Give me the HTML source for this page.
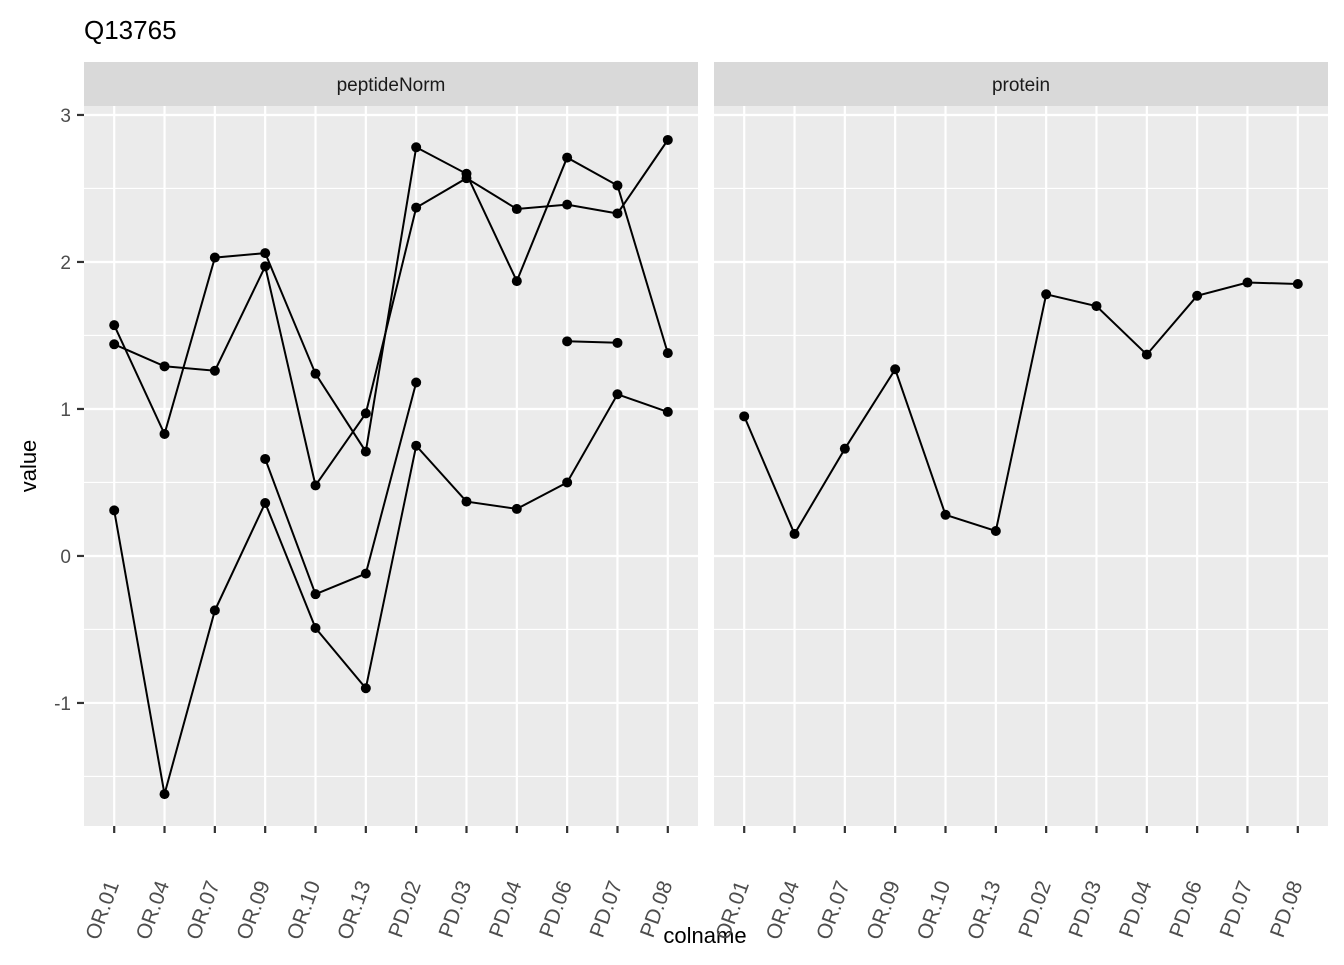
<!DOCTYPE html>
<html><head><meta charset="utf-8"><style>
body{margin:0;background:#fff;}
svg text{font-family:"Liberation Sans",Arial,sans-serif;}
</style></head><body>
<svg id="chart" width="1344" height="960" viewBox="0 0 1344 960" xmlns="http://www.w3.org/2000/svg">
<text x="84" y="39" font-size="26" fill="#000">Q13765</text>
<text x="0" y="0" transform="translate(36,466) rotate(-90)" text-anchor="middle" font-size="22" fill="#000">value</text>
<text x="705" y="943" text-anchor="middle" font-size="22" fill="#000">colname</text>
</svg>
<script>
const categories = ["OR.01","OR.04","OR.07","OR.09","OR.10","OR.13","PD.02","PD.03","PD.04","PD.06","PD.07","PD.08"];
const yTicks = [-1,0,1,2,3];
const yTickLabels = ["-1","0","1","2","3"];
const panels = ["peptideNorm","protein"];
const pep1 = [1.57,0.83,2.03,2.06,1.24,0.71,2.78,2.60,1.87,2.71,2.52,1.38];
const pep2 = [1.44,1.29,1.26,1.97,0.48,0.97,2.37,2.57,2.36,2.39,2.33,2.83];
const pep3 = [0.31,-1.62,-0.37,0.36,-0.49,-0.90,0.75,0.37,0.32,0.50,1.10,0.98];
const pep4 = [null,null,null,0.66,-0.26,-0.12,1.18,null,null,null,null,null];
const pep5 = [null,null,null,null,null,null,null,null,null,1.46,1.45,null];
const protein = [0.95,0.15,0.73,1.27,0.28,0.17,1.78,1.70,1.37,1.77,1.86,1.85];

const NS="http://www.w3.org/2000/svg";
const svg=document.getElementById('chart');
function mk(tag,attrs,parent){const e=document.createElementNS(NS,tag);for(const k in attrs)e.setAttribute(k,attrs[k]);(parent||svg).appendChild(e);return e;}
const pTop=106,pBot=826,yMin=-1.837,yMax=3.061;
function yS(v){return pBot-(v-yMin)/(yMax-yMin)*(pBot-pTop);}
const panelX=[[84,698],[714,1328]];
function xf(p,i){const [a,b]=panelX[p];const w=b-a;const step=w/(categories.length-1+1.2);return a+step*0.6+i*step;}
const panelSeries=[[pep1,pep2,pep3,pep4,pep5],[protein]];

panels.forEach((name,p)=>{
  const [a,b]=panelX[p];
  const g=mk('g',{});
  
  
  const bg=mk('rect',{x:a,y:pTop,width:b-a,height:pBot-pTop,fill:'#ebebeb'},g);
  
  
  const st=mk('rect',{x:a,y:62,width:b-a,height:44,fill:'#d9d9d9'},g);
  
  
  const stt=mk('text',{x:(a+b)/2,y:91,'text-anchor':'middle','font-size':19,fill:'#1a1a1a'},g);
  stt.textContent=name;
  
  
  for(let v=-1.5;v<=3;v+=1){const yy=yS(v);const l=mk('line',{x1:a,x2:b,y1:yy,y2:yy,stroke:'#fff','stroke-width':1.1},g);
    }
  yTicks.forEach(v=>{const yy=yS(v);const l=mk('line',{x1:a,x2:b,y1:yy,y2:yy,stroke:'#fff','stroke-width':2.2},g);
    });
  categories.forEach((c,i)=>{const xx=xf(p,i);
    const l=mk('line',{x1:xx,x2:xx,y1:pTop,y2:pBot,stroke:'#fff','stroke-width':2.2},g);
    
    const t=mk('line',{x1:xx,x2:xx,y1:pBot,y2:pBot+7,stroke:'#333','stroke-width':2.2},g);
    
    const tx=mk('text',{transform:`translate(${xx+5},${pBot+58}) rotate(-70)`,'text-anchor':'end','font-size':21,fill:'#4d4d4d'},g);
    tx.textContent=c;
    
  });
  panelSeries[p].forEach((s,si)=>{
    let d='';let pen=false;
    s.forEach((v,i)=>{if(v===null){pen=false;return;}d+=(pen?'L':'M')+xf(p,i).toFixed(1)+','+yS(v).toFixed(1);pen=true;});
    const path=mk('path',{d:d,fill:'none',stroke:'#000','stroke-width':2},g);
    
    
    s.forEach((v,i)=>{if(v===null)return;
      const c=mk('circle',{cx:xf(p,i),cy:yS(v),r:5,fill:'#000'},g);
      
      });
  });
});
yTicks.forEach((v,k)=>{const yy=yS(v);
  const t=mk('line',{x1:77,x2:84,y1:yy,y2:yy,stroke:'#333','stroke-width':2.2});
  
  const tx=mk('text',{x:71,y:yy+7,'text-anchor':'end','font-size':19,fill:'#4d4d4d'});
  tx.textContent=yTickLabels[k];
  
});
</script>
</body></html>
